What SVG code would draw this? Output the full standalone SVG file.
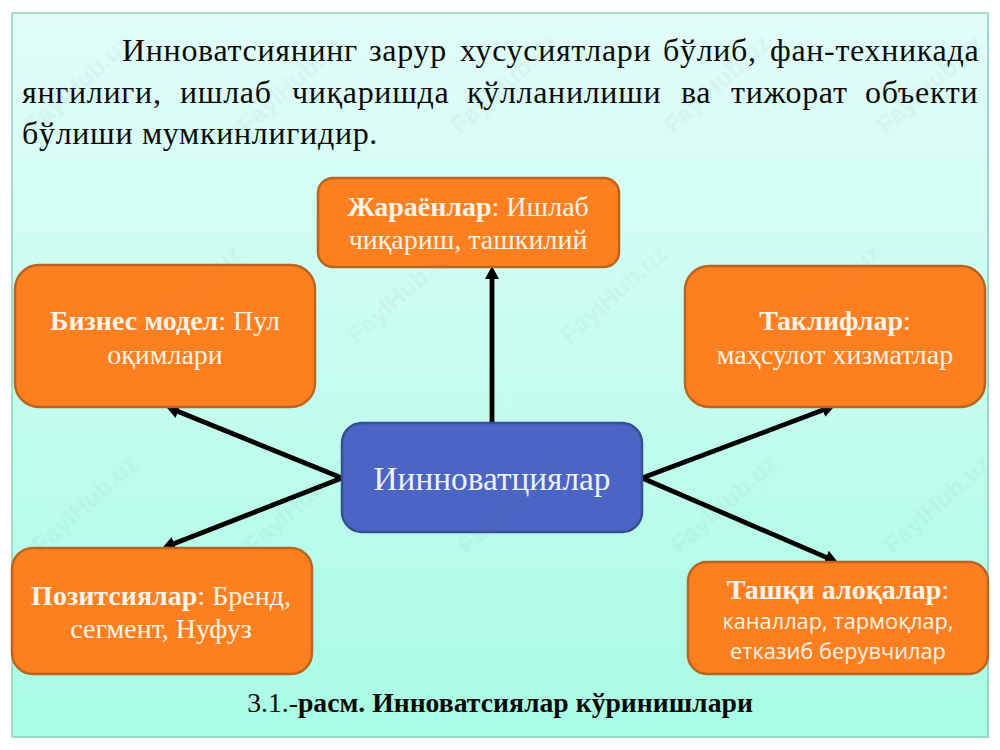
<svg xmlns="http://www.w3.org/2000/svg" width="1000" height="750" viewBox="0 0 1000 750">
<style>
text{font-family:"Liberation Serif","Times New Roman",serif}
.p{font-size:32px;fill:#0a0a0a;letter-spacing:.68px}
.n{fill:#fe7f20;stroke:#b9651f;stroke-width:2.5}
.t{font-size:28px;fill:#fdf3e6;text-anchor:middle}
.s{font-family:"Open Sans","Noto Sans",sans-serif;font-size:21.8px;fill:#fdf3e6;text-anchor:middle}
.b{font-weight:bold}
.c{stroke:#000;stroke-width:4.8;fill:none;marker-end:url(#a)}
.w{font-family:"Liberation Sans",Arial,sans-serif;font-size:25px;font-weight:bold;fill:#808080;opacity:.05}
</style>
<defs>
<linearGradient id="bg" x1="0" y1="0" x2="0" y2="1"><stop offset="0" stop-color="#e2fdf8"/><stop offset="1" stop-color="#a8fce3"/></linearGradient>
<marker id="a" markerUnits="userSpaceOnUse" markerWidth="15" markerHeight="15" refX="6" refY="7.5" orient="auto"><path d="M0 .5L13 7.5L0 14.5z" fill="#000"/></marker>
</defs>
<rect width="1000" height="750" fill="#fff"/>
<rect x="14" y="15" width="975" height="723" fill="#c9d6d1"/>
<rect x="12" y="13" width="976" height="724" fill="url(#bg)" stroke="#8fd0bf" stroke-width="1.5"/>
<g id="intro">
<text class="p" y="61"><tspan x="122">Инноватсиянинг</tspan><tspan x="369">зарур</tspan><tspan x="460">хусусиятлари</tspan><tspan x="663">бўлиб,</tspan><tspan x="770">фан-техникада</tspan></text>
<text class="p" y="103"><tspan x="22">янгилиги,</tspan><tspan x="180">ишлаб</tspan><tspan x="292">чиқаришда</tspan><tspan x="467">қўлланилиши</tspan><tspan x="681">ва</tspan><tspan x="731">тижорат</tspan><tspan x="865">объекти</tspan></text>
<text class="p" x="22" y="144">бўлиши мумкинлигидир.</text>
</g>
<g id="connectors">
<line class="c" x1="492" y1="424" x2="492" y2="273"/>
<line class="c" x1="342" y1="478" x2="172.6" y2="409.3"/>
<line class="c" x1="342" y1="478" x2="168.6" y2="545.8"/>
<line class="c" x1="642" y1="478" x2="828.4" y2="408.1"/>
<line class="c" x1="642" y1="478" x2="831.5" y2="559.6"/>
</g>
<g id="n-center"><rect x="342" y="423" width="300" height="109" rx="20" fill="#4b65c4" stroke="#35518f" stroke-width="2.5"/>
<text x="492" y="490" font-size="33.3" fill="#eef1fa" text-anchor="middle">Иинноватциялар</text></g>
<g id="n-top"><rect class="n" x="318" y="178" width="301" height="89" rx="15"/>
<text class="t" x="468" y="216"><tspan class="b">Жараёнлар</tspan>: Ишлаб</text>
<text class="t" x="468" y="249">чиқариш, ташкилий</text></g>
<g id="n-tl"><rect class="n" x="15" y="265" width="300" height="142" rx="24"/>
<text class="t" x="165" y="330"><tspan class="b">Бизнес модел</tspan>: Пул</text>
<text class="t" x="165" y="364">оқимлари</text></g>
<g id="n-tr"><rect class="n" x="685" y="266" width="300" height="141" rx="24"/>
<text class="t" x="835" y="330"><tspan class="b">Таклифлар</tspan>:</text>
<text class="t" x="835" y="364">маҳсулот хизматлар</text></g>
<g id="n-bl"><rect class="n" x="12" y="548" width="300" height="126" rx="21"/>
<text class="t" x="161" y="605"><tspan class="b">Позитсиялар</tspan>: Бренд,</text>
<text class="t" x="161" y="638">сегмент, Нуфуз</text></g>
<g id="n-br"><rect class="n" x="688" y="562" width="300" height="112" rx="19"/>
<text class="t" x="838" y="599"><tspan class="b">Ташқи алоқалар</tspan>:</text>
<text class="s" x="838" y="629">каналлар, тармоқлар,</text>
<text class="s" x="838" y="659">етказиб берувчилар</text></g>
<text id="caption" x="500" y="712" font-size="27.7" fill="#0a0a0a" text-anchor="middle">3.1.-<tspan class="b">расм. Инноватсиялар кўринишлари</tspan></text>
<g id="watermark">
<text class="w" transform="translate(34 135) rotate(-42)">FaylHub.uz</text>
<text class="w" transform="translate(247 135) rotate(-42)">FaylHub.uz</text>
<text class="w" transform="translate(460 135) rotate(-42)">FaylHub.uz</text>
<text class="w" transform="translate(673 135) rotate(-42)">FaylHub.uz</text>
<text class="w" transform="translate(886 135) rotate(-42)">FaylHub.uz</text>
<text class="w" transform="translate(144 345) rotate(-42)">FaylHub.uz</text>
<text class="w" transform="translate(357 345) rotate(-42)">FaylHub.uz</text>
<text class="w" transform="translate(570 345) rotate(-42)">FaylHub.uz</text>
<text class="w" transform="translate(783 345) rotate(-42)">FaylHub.uz</text>
<text class="w" transform="translate(41 555) rotate(-42)">FaylHub.uz</text>
<text class="w" transform="translate(254 555) rotate(-42)">FaylHub.uz</text>
<text class="w" transform="translate(467 555) rotate(-42)">FaylHub.uz</text>
<text class="w" transform="translate(680 555) rotate(-42)">FaylHub.uz</text>
<text class="w" transform="translate(893 555) rotate(-42)">FaylHub.uz</text>
</g>
</svg>
